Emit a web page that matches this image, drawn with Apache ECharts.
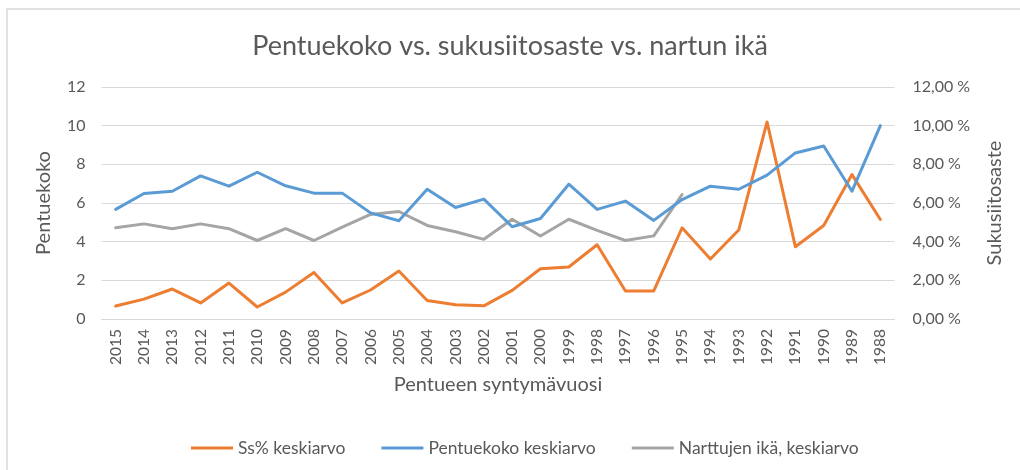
<!DOCTYPE html>
<html>
<head>
<meta charset="utf-8">
<script src="https://cdn.jsdelivr.net/npm/echarts@6/dist/echarts.min.js"></script>
<style>
  html, body { margin: 0; padding: 0; background: #fff; }
  #mainChart { width: 1020px; height: 470px; }
</style>
</head>
<body>
<div id="mainChart"></div>
<script>
var years = ['2015', '2014', '2013', '2012', '2011', '2010', '2009', '2008', '2007', '2006',
    '2005', '2004', '2003', '2002', '2001', '2000', '1999', '1998', '1997', '1996',
    '1995', '1994', '1993', '1992', '1991', '1990', '1989', '1988'];

// Ss% keskiarvo, in percent (right axis)
var ssPercent = [0.67, 1.03, 1.55, 0.83, 1.86, 0.62, 1.39, 2.41, 0.83, 1.50,
    2.48, 0.96, 0.74, 0.68, 1.48, 2.60, 2.69, 3.84, 1.45, 1.45,
    4.72, 3.10, 4.60, 10.19, 3.74, 4.84, 7.47, 5.15];

// Pentuekoko keskiarvo (left axis)
var pentuekoko = [5.67, 6.49, 6.61, 7.40, 6.87, 7.59, 6.89, 6.51, 6.51, 5.49,
    5.08, 6.71, 5.77, 6.20, 4.77, 5.20, 6.97, 5.67, 6.10, 5.10,
    6.18, 6.87, 6.71, 7.44, 8.59, 8.95, 6.61, 10.0];

// Narttujen ikä, keskiarvo (left axis), no data before 1995
var narttujenIka = [4.72, 4.92, 4.67, 4.92, 4.67, 4.06, 4.67, 4.06, 4.75, 5.41,
    5.56, 4.84, 4.51, 4.12, 5.16, 4.29, 5.16, 4.58, 4.06, 4.30,
    6.44, null, null, null, null, null, null, null];

var legends = ['Ss% keskiarvo', 'Pentuekoko keskiarvo', 'Narttujen ikä, keskiarvo'];

var textColor = '#595959';
var gridColor = '#D9D9D9';
var font = 'Lato';

var myChart = echarts.init(document.getElementById('mainChart'));
myChart.setOption({
    animation: false,
    textStyle: {fontFamily: font},
    graphic: [{
        type: 'rect',
        shape: {x: 7, y: 9, width: 1100, height: 600},
        style: {fill: 'none', stroke: gridColor, lineWidth: 1.5}
    }],
    title: {
        text: 'Pentuekoko vs. sukusiitosaste vs. nartun ikä',
        left: 'center',
        top: 28,
        textStyle: {fontFamily: font, fontSize: 27, fontWeight: 'normal', color: textColor}
    },
    legend: {
        data: legends,
        left: 186,
        top: 434,
        icon: 'rect',
        itemWidth: 42,
        itemHeight: 3,
        itemGap: 36,
        itemTextGap: 4,
        textStyle: {fontFamily: font, fontSize: 17.5, color: textColor}
    },
    grid: {left: 101.5, right: 125.5, top: 87, bottom: 151},
    xAxis: {
        type: 'category',
        data: years,
        name: 'Pentueen syntymävuosi',
        nameLocation: 'middle',
        nameGap: 56,
        nameTextStyle: {fontFamily: font, fontSize: 20, color: textColor},
        axisLine: {lineStyle: {color: gridColor}},
        axisTick: {show: false},
        axisLabel: {rotate: 90, fontSize: 15.5, color: textColor, margin: 10, interval: 0}
    },
    yAxis: [{
        type: 'value',
        min: 0,
        max: 12,
        interval: 2,
        name: 'Pentuekoko',
        nameLocation: 'middle',
        nameRotate: 90,
        nameGap: 48,
        nameTextStyle: {fontFamily: font, fontSize: 20, color: textColor},
        axisLine: {show: false},
        axisTick: {show: false},
        axisLabel: {fontSize: 16, color: textColor, margin: 16},
        splitLine: {lineStyle: {color: gridColor, width: 1}}
    }, {
        type: 'value',
        min: 0,
        max: 12,
        interval: 2,
        name: 'Sukusiitosaste',
        nameLocation: 'middle',
        nameRotate: 90,
        nameGap: 90,
        nameTextStyle: {fontFamily: font, fontSize: 20, color: textColor},
        axisLine: {show: false},
        axisTick: {show: false},
        axisLabel: {
            fontSize: 16,
            color: textColor,
            margin: 18,
            formatter: function (v) {
                return v.toFixed(2).replace('.', ',') + ' %';
            }
        },
        splitLine: {show: false}
    }],
    series: [{
        name: legends[0],
        type: 'line',
        yAxisIndex: 1,
        symbol: 'none',
        z: 3,
        lineStyle: {width: 3, color: '#ED7D31', cap: 'round', join: 'round'},
        itemStyle: {color: '#ED7D31'},
        data: ssPercent
    }, {
        name: legends[1],
        type: 'line',
        symbol: 'none',
        z: 4,
        lineStyle: {width: 3, color: '#5B9BD5', cap: 'round', join: 'round'},
        itemStyle: {color: '#5B9BD5'},
        data: pentuekoko
    }, {
        name: legends[2],
        type: 'line',
        symbol: 'none',
        z: 2,
        lineStyle: {width: 3, color: '#A5A5A5', cap: 'round', join: 'round'},
        itemStyle: {color: '#A5A5A5'},
        data: narttujenIka
    }]
});
</script>
</body>
</html>
